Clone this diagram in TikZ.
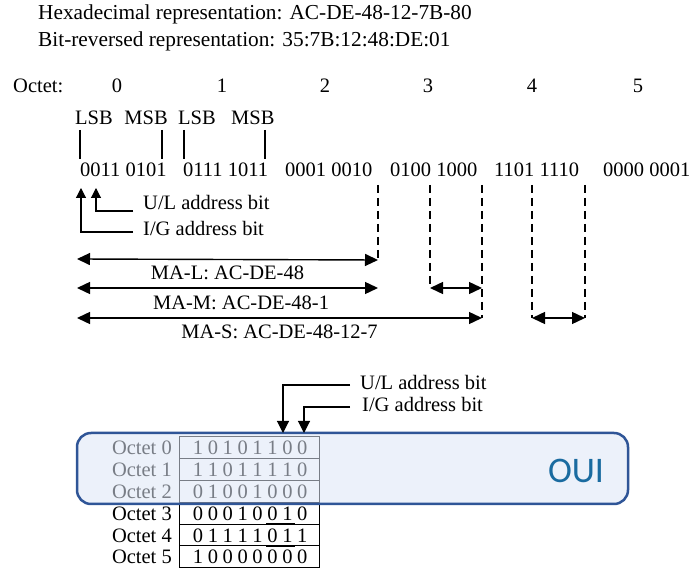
\documentclass[tikz,border=0pt]{standalone}
\usepackage{fontspec}
\setmainfont{Liberation Serif}
\newfontfamily\ouifont{Carlito}
\usetikzlibrary{arrows.meta}

\definecolor{ouiline}{RGB}{47,85,151}
\definecolor{ouifill}{RGB}{220,229,245}
\definecolor{ouitext}{RGB}{26,107,160}

\begin{document}
\begin{tikzpicture}[x=1pt,y=-1pt,
                    font=\fontsize{20.5}{24}\selectfont,
                    every node/.style={inner sep=0pt},
                    title/.style={anchor=base west,font=\fontsize{21.3}{25}\selectfont},
                    tick/.style={line width=1.2pt},
                    guide/.style={line width=1.1pt,dash pattern=on 8pt off 5pt},
                    span/.style={line width=1.4pt,{Triangle[length=13pt,width=12pt]}-{Triangle[length=13pt,width=12pt]}},
                    pointer/.style={line width=1.1pt,-{Triangle[length=10pt,width=10pt]}},
                    cell/.style={line width=1pt},
                    ]

                    \useasboundingbox (0,0) rectangle (697,569);

                    % the two representations
                    \node[title] (hex) at (38,20) {Hexadecimal representation: AC-DE-48-12-7B-80};
                    \node[title] (rev) at (38,47) {Bit-reversed representation: 35:7B:12:48:DE:01};

                    % octets in transmission order
                    \node[anchor=base west] (octet) at (13,93) {Octet:};
                    \foreach \n/\x in {0/117,1/222,2/325,3/428,4/532,5/638}
                        \node[anchor=base] (oct\n) at (\x,93) {\n};

                    \node[anchor=base west] (lsbA) at (75,125) {LSB};
                    \node[anchor=base east] (msbA) at (168,125) {MSB};
                    \node[anchor=base west] (lsbB) at (178,125) {LSB};
                    \node[anchor=base west] (msbB) at (231,125) {MSB};
                    \foreach \x in {80,162,184,265}
                        \draw[tick] (\x,130) -- (\x,159);

                    \foreach \n/\x/\b in {0/80/0011 0101,1/183/0111 1011,2/285/0001 0010,
                                          3/390/0100 1000,4/494/1101 1110,5/603/0000 0001}
                        \node[anchor=base west] (bits\n) at (\x,177) {\b};

                    % U/L and I/G bits of the first octet
                    \coordinate (igTip) at (81,188);
                    \coordinate (ulTip) at (96,188);
                    \node[anchor=base west] (ulText) at (143,210) {U/L address bit};
                    \node[anchor=base west] (igText) at (143,236) {I/G address bit};
                    \draw[pointer] ([xshift=-10pt,yshift=-1pt]ulText.base west) -| (ulTip);
                    \draw[pointer] ([xshift=-10pt,yshift=4pt]igText.base west) -| (igTip);

                    % block boundaries
                    \foreach \g/\x/\y in {A/378/260,B/430/288,C/482/318,D/532/318,E/585/318}{
                        \coordinate (g\g) at (\x,\y);
                        \draw[guide] (\x,185) -- (g\g);
                    }
                    \coordinate (spanStart) at (77,259);
                    \draw[span] (spanStart) -- node[below=6pt] (maL) {MA-L: AC-DE-48} (gA);
                    \draw[span] (spanStart |- gB) -- node[pos=0.545,below=7pt] (maM) {MA-M: AC-DE-48-1} (gA |- gB);
                    \draw[span] (spanStart |- gC) -- node[below=6pt] (maS) {MA-S: AC-DE-48-12-7} (gC);
                    \draw[span] (gB) -- (gC |- gB);
                    \draw[span] (gD) -- (gE);

                    % octets as stored, one row each
                    \foreach \r/\bits in {0/{1,0,1,0,1,1,0,0},1/{1,1,0,1,1,1,1,0},2/{0,1,0,0,1,0,0,0},
                                          3/{0,0,0,1,0,0,1,0},4/{0,1,1,1,1,0,1,1},5/{1,0,0,0,0,0,0,0}}{
                        \draw[cell] (179,{437+21.8*\r}) rectangle (319,{458.8+21.8*\r});
                        \node[anchor=base east] (row\r) at (172,{455+21.8*\r}) {Octet \r};
                        \foreach \v [count=\i from 0] in \bits
                            \node[anchor=base] (bit\r\i) at ({198+14.9*\i},{455+21.8*\r}) {\v};
                    }
                    \draw[line width=1.8pt] (266,524.2) -- (295,524.2);
                    \draw[line width=1.8pt] (266,546) -- (295,546);

                    % OUI block
                    \draw[line width=2.5pt,ouiline,fill=ouifill,fill opacity=0.55,rounded corners=14pt]
                        (77,433) rectangle (628,504);
                    \node[font=\ouifont\fontsize{36}{40}\selectfont,text=ouitext] (oui) at (576,471) {OUI};

                    \coordinate (ulBit) at (283,433);
                    \coordinate (igBit) at (304,433);
                    \node[anchor=base west] (ulNote) at (360,390) {U/L address bit};
                    \node[anchor=base west] (igNote) at (362,412) {I/G address bit};
                    \draw[pointer,-{Triangle[length=12pt,width=12pt]}] ([xshift=-10pt,yshift=5pt]ulNote.base west) -| (ulBit);
                    \draw[pointer,-{Triangle[length=12pt,width=12pt]}] ([xshift=-12pt,yshift=5pt]igNote.base west) -| (igBit);
                \end{tikzpicture}
\end{document}
